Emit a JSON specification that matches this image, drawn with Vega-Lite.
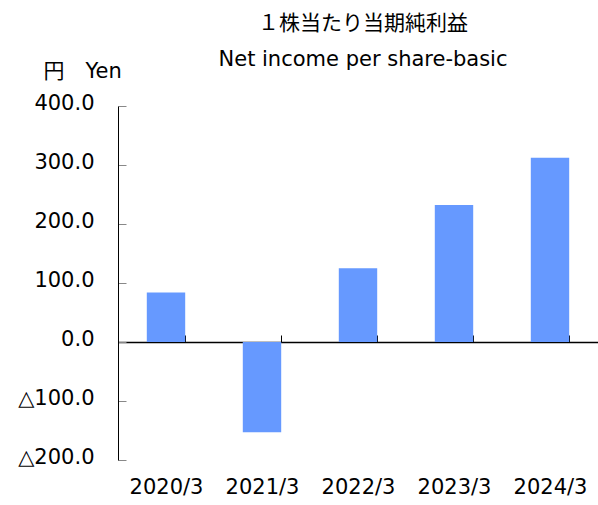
{
  "$schema": "https://vega.github.io/schema/vega-lite/v6.json",
  "width": 480,
  "height": 354,
  "autosize": {"type": "none"},
  "padding": {"left": 118, "top": 106, "right": 0, "bottom": 45},
  "config": {"view": {"stroke": null}, "font": "DejaVu Sans"},
  "title": {
    "text": "１株当たり当期純利益",
    "subtitle": "Net income per share-basic",
    "anchor": "middle",
    "frame": "group",
    "dx": 5,
    "offset": -10,
    "font": "Noto Sans CJK JP",
    "fontSize": 21,
    "fontWeight": "normal",
    "color": "#000000",
    "subtitleFont": "DejaVu Sans",
    "subtitleFontSize": 21,
    "subtitleColor": "#000000",
    "subtitlePadding": 15
  },
  "data": {
    "values": [
      {"year": "2020/3", "eps": 84.0},
      {"year": "2021/3", "eps": -153.0},
      {"year": "2022/3", "eps": 125.0},
      {"year": "2023/3", "eps": 232.0},
      {"year": "2024/3", "eps": 312.5}
    ]
  },
  "mark": {"type": "bar", "color": "#6699FF"},
  "encoding": {
    "x": {
      "field": "year",
      "type": "nominal",
      "sort": null,
      "scale": {"paddingInner": 0.6, "paddingOuter": 0.3},
      "axis": {
        "title": null,
        "orient": "bottom",
        "offset": -118,
        "domainColor": "#000000",
        "domainWidth": 1.5,
        "ticks": true,
        "tickBand": "extent",
        "tickSize": -7,
        "tickColor": "#000000",
        "labelAngle": 0,
        "labelFont": "DejaVu Sans",
        "labelFontSize": 21,
        "labelColor": "#000000",
        "labelPadding": 141,
        "grid": false
      }
    },
    "y": {
      "field": "eps",
      "type": "quantitative",
      "scale": {"domain": [-200, 400], "nice": false, "zero": false},
      "axis": {
        "title": "円　Yen",
        "titleAngle": 0,
        "titleX": -75,
        "titleY": -35,
        "titleAlign": "left",
        "titleBaseline": "middle",
        "titleFont": "DejaVu Sans, Noto Sans CJK JP",
        "titleFontSize": 21,
        "titleFontWeight": "normal",
        "titleColor": "#000000",
        "values": [-200, -100, 0, 100, 200, 300, 400],
        "labelExpr": "datum.value < 0 ? '△' + format(-datum.value, '.1f') : format(datum.value, '.1f')",
        "labelFont": "DejaVu Sans",
        "labelFontSize": 21,
        "labelColor": "#000000",
        "labelOffset": -3,
        "labelPadding": 32,
        "domainColor": "#000000",
        "tickColor": "#888888",
        "tickSize": -8,
        "grid": false
      }
    }
  }
}
